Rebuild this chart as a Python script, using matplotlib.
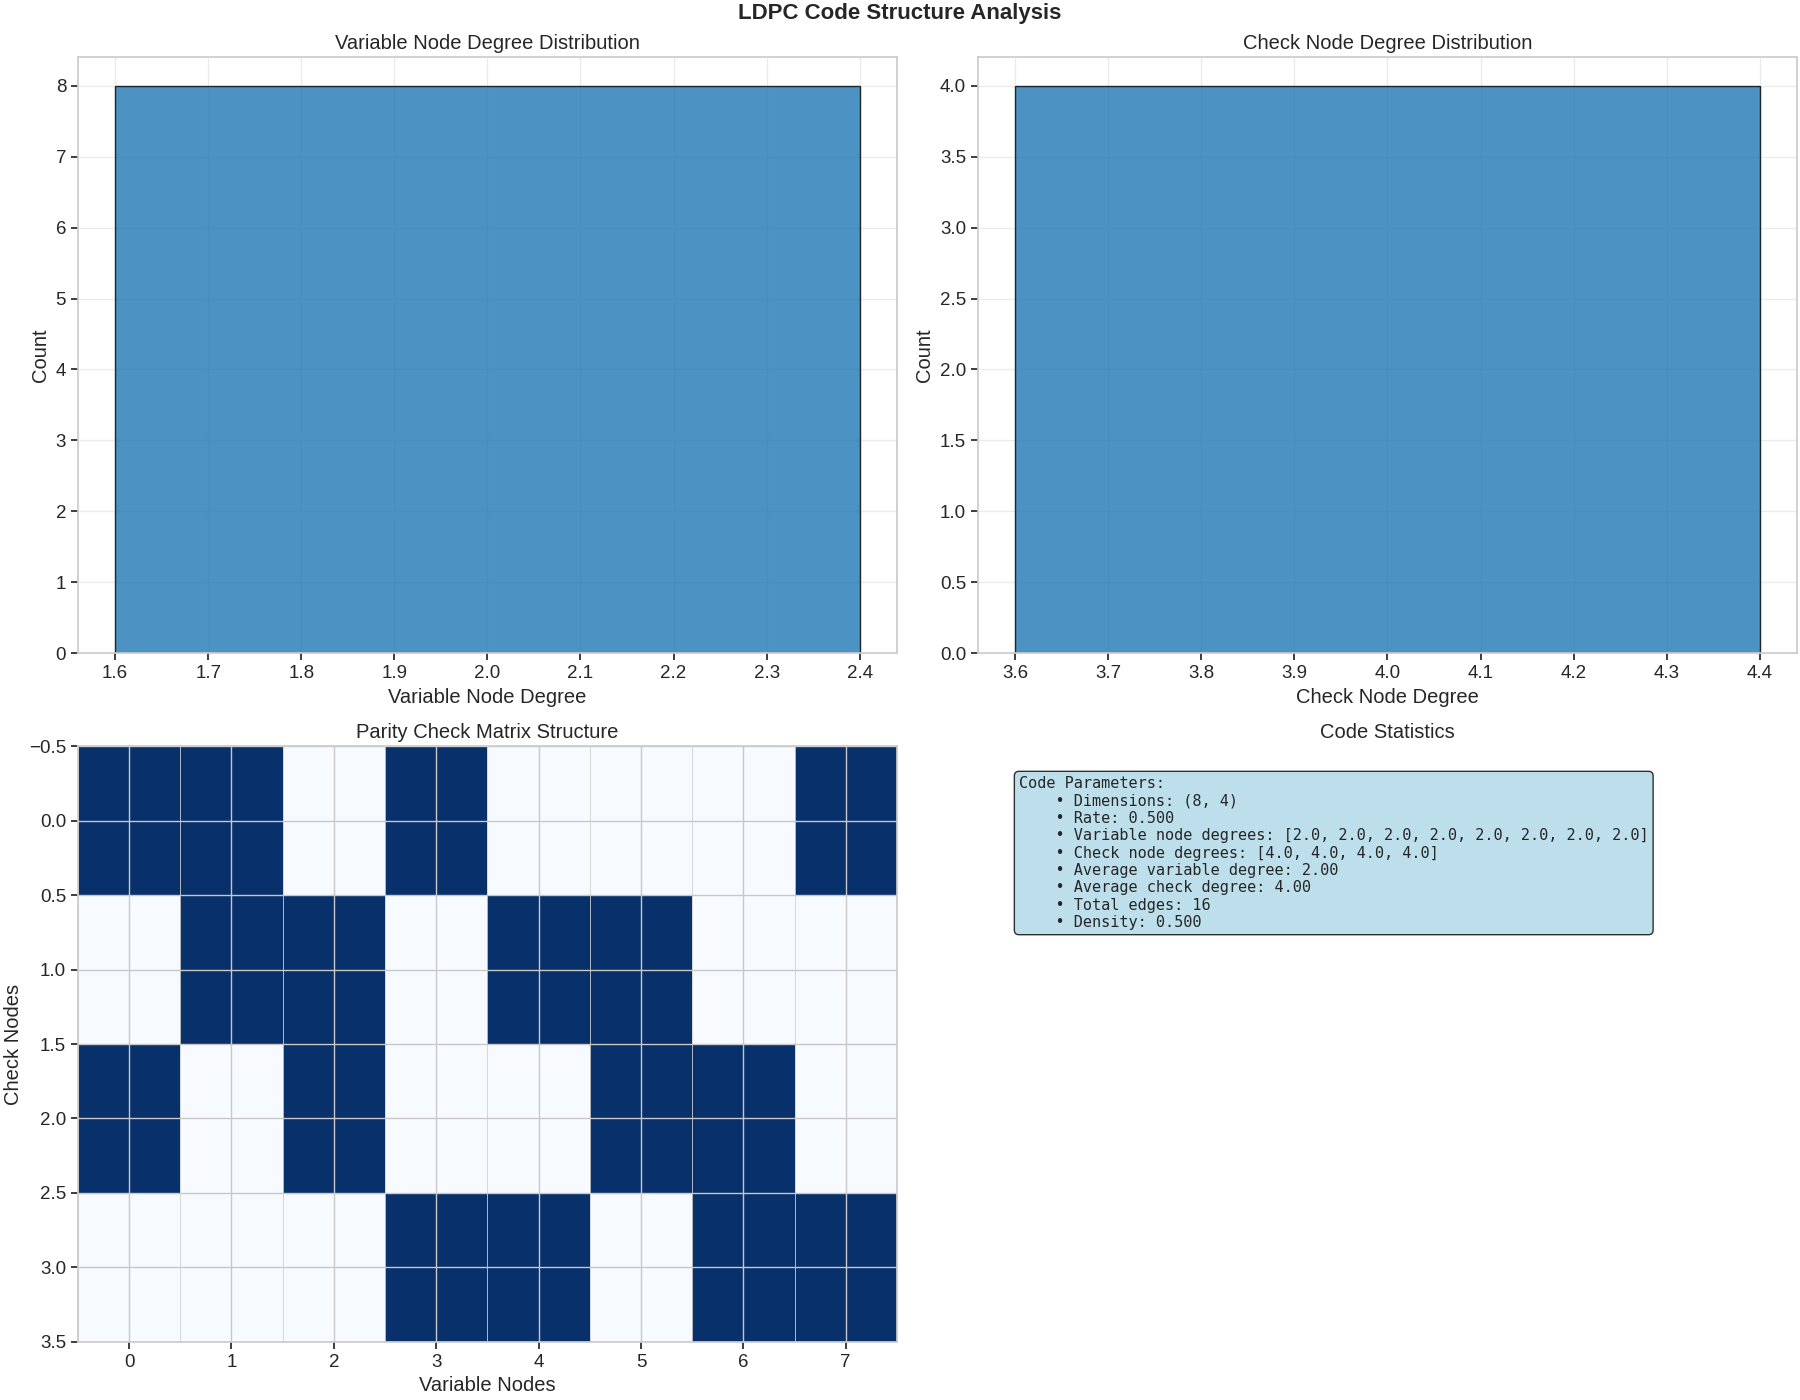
import numpy as np
import matplotlib
matplotlib.use("Agg")
import matplotlib.pyplot as plt
import seaborn as sns

# parity check matrix of the small LDPC code (4 checks x 8 variables)
H = np.array([
    [1, 1, 0, 1, 0, 0, 0, 1],
    [0, 1, 1, 0, 1, 1, 0, 0],
    [1, 0, 1, 0, 0, 1, 1, 0],
    [0, 0, 0, 1, 1, 0, 1, 1],
])
var_degrees = [2.0, 2.0, 2.0, 2.0, 2.0, 2.0, 2.0, 2.0]
check_degrees = [4.0, 4.0, 4.0, 4.0]
n_vars = 8
n_checks = 4
rate = 0.500
total_edges = 16
density = 0.500

sns.set_theme(style="whitegrid", rc={"xtick.bottom": True, "ytick.left": True})
plt.rcParams['font.family'] = ['Liberation Sans', 'DejaVu Sans']
plt.rcParams['axes.edgecolor'] = '#cccccc'
plt.rcParams['grid.color'] = '#ebebeb'
plt.rcParams['xtick.major.size'] = 5
plt.rcParams['ytick.major.size'] = 5

fig, axes = plt.subplots(2, 2, figsize=(18, 14), dpi=100)
fig.subplots_adjust(left=0.0433, right=0.9983, top=0.959, bottom=0.0415,
                    wspace=0.099, hspace=0.156)
tfs = 14.5   # titles / axis labels
fs = 13.5    # tick labels
bar_color = '#1f77b4'

# variable node degrees
ax = axes[0, 0]
vals, cnts = np.unique(var_degrees, return_counts=True)
ax.bar(vals, cnts, color=bar_color, alpha=0.8, edgecolor='black')
ax.set_title('Variable Node Degree Distribution', fontsize=tfs)
ax.set_xlabel('Variable Node Degree', fontsize=tfs)
ax.set_ylabel('Count', fontsize=tfs)
ax.tick_params(labelsize=fs)

# check node degrees
ax = axes[0, 1]
vals, cnts = np.unique(check_degrees, return_counts=True)
ax.bar(vals, cnts, color=bar_color, alpha=0.8, edgecolor='black')
ax.set_title('Check Node Degree Distribution', fontsize=tfs)
ax.set_xlabel('Check Node Degree', fontsize=tfs)
ax.set_ylabel('Count', fontsize=tfs)
ax.tick_params(labelsize=fs)

# matrix
ax = axes[1, 0]
ax.imshow(H, cmap='Blues', aspect='auto', interpolation='nearest')
ax.set_xticks(np.arange(-0.5, n_vars, 1), minor=True)
ax.grid(which='minor', color='#d0d0d0', linewidth=0.6)
ax.grid(which='major', color='#c8c8c8', linewidth=1.0)
ax.tick_params(which='minor', length=0)
ax.set_title('Parity Check Matrix Structure', fontsize=tfs)
ax.set_xlabel('Variable Nodes', fontsize=tfs)
ax.set_ylabel('Check Nodes', fontsize=tfs)
ax.tick_params(labelsize=fs)

# stats text
ax = axes[1, 1]
ax.axis('off')
ax.set_title('Code Statistics', fontsize=tfs)
txt = "Code Parameters:\n"
txt += f"    \u2022 Dimensions: ({n_vars}, {n_checks})\n"
txt += f"    \u2022 Rate: {rate:.3f}\n"
txt += f"    \u2022 Variable node degrees: {var_degrees}\n"
txt += f"    \u2022 Check node degrees: {check_degrees}\n"
txt += f"    \u2022 Average variable degree: {np.mean(var_degrees):.2f}\n"
txt += f"    \u2022 Average check degree: {np.mean(check_degrees):.2f}\n"
txt += f"    \u2022 Total edges: {total_edges}\n"
txt += f"    \u2022 Density: {density:.3f}"
ax.text(0.05, 0.95, txt, transform=ax.transAxes, va='top', ha='left',
        family='DejaVu Sans Mono', fontsize=11,
        bbox=dict(boxstyle='round', facecolor='lightblue', alpha=0.8,
                  edgecolor='black'))

fig.suptitle('LDPC Code Structure Analysis', fontsize=16, fontweight='bold',
             y=0.99, va='center')
plt.savefig('out.png')
